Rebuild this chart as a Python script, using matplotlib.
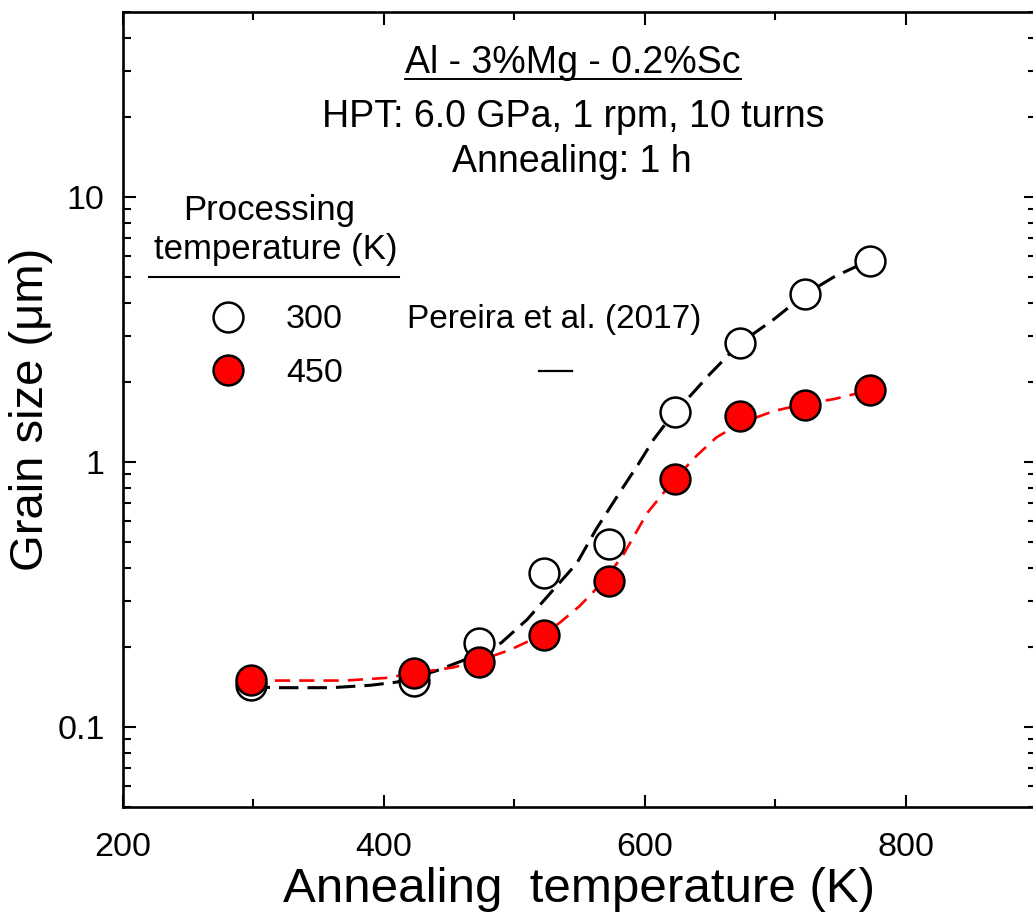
import matplotlib
matplotlib.use("Agg")
import matplotlib.pyplot as plt
from matplotlib.ticker import LogLocator, FixedLocator, FuncFormatter, NullFormatter, MultipleLocator
from matplotlib.lines import Line2D

# ---------------- data ----------------
anneal_T = [298, 423, 473, 523, 573, 623, 673, 723, 773]
d_300 = [0.144, 0.149, 0.208, 0.382, 0.491, 1.55, 2.81, 4.30, 5.74]
d_450 = [0.151, 0.160, 0.177, 0.222, 0.355, 0.863, 1.494, 1.65, 1.873]

fit_T_300 = [298, 320, 360, 390, 410, 440, 470, 490, 510, 530, 548, 563, 581,
             595, 607, 623, 635, 650, 673, 699, 723, 745, 773]
fit_d_300 = [0.142, 0.141, 0.141, 0.144, 0.148, 0.163, 0.186, 0.208, 0.255, 0.330,
             0.415, 0.56, 0.77, 0.98, 1.22, 1.55, 1.78, 2.15, 2.81, 3.46, 4.30, 5.0, 5.8]

fit_T_450 = [298, 330, 370, 402, 423, 453, 473, 497, 523, 535, 550, 561, 573,
             584, 602, 623, 640, 655, 673, 699, 723, 745, 773]
fit_d_450 = [0.150, 0.150, 0.150, 0.1535, 0.160, 0.168, 0.178, 0.196, 0.225, 0.248,
             0.286, 0.325, 0.38, 0.45, 0.643, 0.863, 1.06, 1.24, 1.40, 1.56, 1.66, 1.73, 1.87]

labels_proc = ["300", "450"]
x_ticks = [200, 400, 600, 800]
y_ticks = [0.1, 1, 10]

# ---------------- style ----------------
plt.rcParams['font.family'] = ['Liberation Sans', 'DejaVu Sans']
plt.rcParams['lines.scale_dashes'] = False

W, H = 1033, 923
fig = plt.figure(figsize=(W / 100, H / 100), dpi=100)
fig.patch.set_facecolor('white')

ax_left, ax_right, ax_top, ax_bot = 122.7, 1036.0, 12.0, 807.0
ax = fig.add_axes([ax_left / W, 1 - ax_bot / H, (ax_right - ax_left) / W, (ax_bot - ax_top) / H])

def fx(px):
    return px / W

def fy(py):
    return 1 - py / H

# fitted curves
ax.plot(fit_T_300, fit_d_300, color='black', lw=2.2, dashes=(14, 6.5), zorder=2)
ax.plot(fit_T_450, fit_d_450, color='#ff0000', lw=1.9, dashes=(11, 6.5), zorder=3)

# data points
mk = dict(marker='o', ms=21.5, mew=1.8, mec='black', ls='none')
ax.plot(anneal_T, d_300, mfc='white', zorder=4, label=labels_proc[0], **mk)
ax.plot(anneal_T, d_450, mfc='#ff0000', zorder=5, label=labels_proc[1], **mk)

ax.set_xscale('linear')
ax.set_yscale('log')
ax.set_xlim(200, 900)
ax.set_ylim(0.05, 50)

ax.xaxis.set_major_locator(FixedLocator(x_ticks))
ax.xaxis.set_minor_locator(MultipleLocator(100))
ax.yaxis.set_major_locator(FixedLocator(y_ticks))
ax.yaxis.set_minor_locator(LogLocator(base=10, subs=range(2, 10)))
ax.yaxis.set_major_formatter(FuncFormatter(lambda v, p: f"{v:g}"))
ax.yaxis.set_minor_formatter(NullFormatter())

for s in ax.spines.values():
    s.set_linewidth(1.9)

ax.tick_params(which='both', direction='in', top=True, right=True, width=1.5, labelsize=24.5)
ax.tick_params(which='major', length=9)
ax.tick_params(which='minor', length=6)
ax.tick_params(axis='y', which='both', pad=13)
ax.tick_params(axis='x', which='both', pad=18)

ax.set_xlabel("Annealing  temperature (K)", fontsize=35.5, labelpad=3)
ax.set_ylabel("Grain size (μm)", fontsize=34, labelpad=3)

# ---------------- header text ----------------
t_title = fig.text(fx(573), fy(73), "Al - 3%Mg - 0.2%Sc", fontsize=27, ha='center', va='baseline')
fig.text(fx(573.7), fy(126.7), "HPT: 6.0 GPa, 1 rpm, 10 turns", fontsize=27, ha='center', va='baseline')
fig.text(fx(571.5), fy(171.7), "Annealing: 1 h", fontsize=27, ha='center', va='baseline')

# ---------------- legend ----------------
fig.text(fx(269), fy(220), "Processing", fontsize=25, ha='center', va='baseline')
fig.text(fx(275.5), fy(259.3), "temperature (K)", fontsize=25, ha='center', va='baseline')
fig.add_artist(Line2D([fx(149), fx(399)], [fy(277), fy(277)], color='black', lw=1.5))

leg_y = [317, 370]
leg_fc = ['white', '#ff0000']
for lab, yy, fc in zip(labels_proc, leg_y, leg_fc):
    fig.add_artist(Line2D([fx(228)], [fy(yy)], marker='o', ms=21.5, mew=1.8, mec='black', mfc=fc, ls='none'))
    fig.text(fx(286), fy(yy + 11.5), lab, fontsize=24.5, ha='left', va='baseline')

fig.text(fx(407), fy(328), "Pereira et al. (2017)", fontsize=24, ha='left', va='baseline')
fig.add_artist(Line2D([fx(539), fx(572)], [fy(371), fy(371)], color='black', lw=1.6))

# underline of title
fig.canvas.draw()
bb = t_title.get_window_extent()
fig.add_artist(Line2D([bb.x0 / W, bb.x1 / W], [fy(79), fy(79)], color='black', lw=1.4))

fig.savefig("out.png", dpi=100, facecolor='white')
